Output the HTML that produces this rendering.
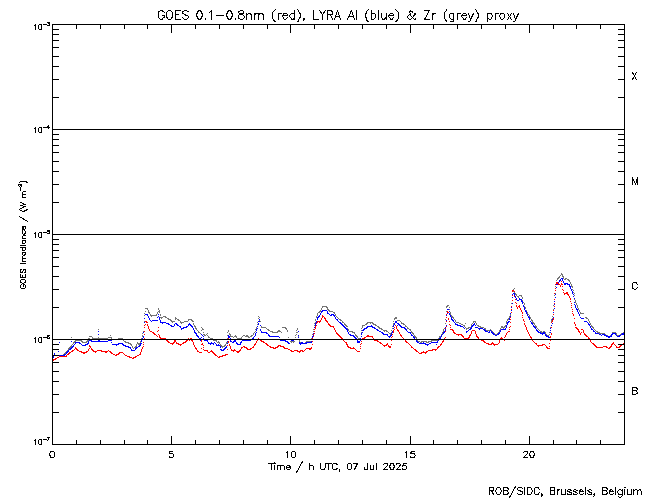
<!DOCTYPE html>
<html lang="en">
<head>
<meta charset="utf-8">
<title>GOES 0.1-0.8nm (red), LYRA Al (blue) &amp; Zr (grey) proxy</title>
<style>
html,body{margin:0;padding:0;background:#fff;font-family:"Liberation Sans",sans-serif}
svg{display:block}
.ln{fill:none;stroke-width:1;stroke-linecap:butt}
.tx{fill:none;stroke:#000;stroke-width:1;stroke-linecap:square;stroke-linejoin:miter}
</style>
</head>
<body>
<svg role="img" aria-label="GOES X-ray irradiance with LYRA Al and Zr proxies, 07 Jul 2025" width="650" height="500" viewBox="0 0 650 500" shape-rendering="crispEdges">
<desc>GOES 0.1-0.8nm (red), LYRA Al (blue) &amp; Zr (grey) proxy. Y: GOES Irradiance / (W m-2), log 1e-7..1e-3 with flare classes B, C, M, X. X: Time / h UTC, 07 Jul 2025. ROB/SIDC, Brussels, Belgium</desc>
<rect x="0" y="0" width="650" height="500" fill="#fff"/>
<g id="series">
<path class="ln" stroke="#747474" d="M561 273.5h1M561 274.5h2M560 275.5h1M562 275.5h1M559 276.5h1M562 276.5h2M558 277.5h2M563 277.5h1M557 278.5h2M563 278.5h1M565 278.5h2M557 279.5h1M564 279.5h2M567 279.5h2M556 280.5h1M568 280.5h2M569 281.5h1M570 282.5h1M556 283.5h1M570 283.5h1M571 284.5h1M571 285.5h1M555 286.5h1M571 286.5h2M572 287.5h1M514 288.5h1M513 289.5h1M572 289.5h1M555 290.5h1M573 290.5h1M513 291.5h1M514 292.5h1M573 292.5h1M513 293.5h3M555 293.5h1M574 293.5h1M515 294.5h2M512 295.5h1M516 295.5h1M519 295.5h3M554 295.5h1M574 295.5h1M517 296.5h2M521 296.5h1M518 297.5h1M522 297.5h1M522 298.5h1M574 299.5h1M512 300.5h1M522 300.5h1M575 300.5h1M554 301.5h1M575 301.5h1M523 302.5h1M575 302.5h1M511 303.5h1M524 303.5h1M576 303.5h1M524 304.5h1M576 304.5h1M447 305.5h2M553 305.5h1M577 305.5h1M322 306.5h5M446 306.5h2M511 306.5h1M524 306.5h1M577 306.5h1M322 307.5h1M326 307.5h2M446 307.5h1M449 307.5h1M525 307.5h1M577 307.5h1M145 308.5h3M158 308.5h1M321 308.5h1M327 308.5h1M525 308.5h1M578 308.5h1M147 309.5h1M158 309.5h1M321 309.5h1M327 309.5h2M449 309.5h1M553 309.5h1M578 309.5h1M148 310.5h1M159 310.5h1M320 310.5h1M328 310.5h2M511 310.5h1M526 310.5h1M579 310.5h1M145 311.5h1M148 311.5h1M158 311.5h2M319 311.5h2M329 311.5h4M446 311.5h1M449 311.5h1M526 311.5h1M579 311.5h1M148 312.5h2M157 312.5h1M159 312.5h1M318 312.5h2M333 312.5h2M450 312.5h1M527 312.5h1M553 312.5h1M580 312.5h1M144 313.5h1M149 313.5h1M157 313.5h1M317 313.5h1M334 313.5h1M450 313.5h1M527 313.5h1M580 313.5h4M150 314.5h1M156 314.5h1M160 314.5h1M317 314.5h1M335 314.5h1M450 314.5h1M510 314.5h1M528 314.5h1M144 315.5h1M150 315.5h7M160 315.5h1M317 315.5h1M335 315.5h1M446 315.5h1M451 315.5h1M510 315.5h1M529 315.5h1M151 316.5h1M163 316.5h3M258 316.5h1M316 316.5h1M336 316.5h1M451 316.5h2M509 316.5h1M529 316.5h1M552 316.5h1M160 317.5h3M165 317.5h2M175 317.5h1M259 317.5h1M316 317.5h1M337 317.5h1M395 317.5h2M452 317.5h2M509 317.5h1M530 317.5h1M585 317.5h2M161 318.5h1M167 318.5h2M175 318.5h2M258 318.5h1M338 318.5h1M394 318.5h3M453 318.5h1M508 318.5h1M530 318.5h1M552 318.5h1M586 318.5h2M168 319.5h3M175 319.5h1M177 319.5h2M188 319.5h4M259 319.5h1M315 319.5h1M339 319.5h2M394 319.5h1M445 319.5h1M454 319.5h1M507 319.5h2M531 319.5h1M551 319.5h1M588 319.5h1M170 320.5h2M178 320.5h2M188 320.5h1M191 320.5h2M259 320.5h1M315 320.5h1M340 320.5h2M397 320.5h3M455 320.5h1M507 320.5h1M531 320.5h2M551 320.5h1M588 320.5h1M144 321.5h1M171 321.5h4M180 321.5h1M184 321.5h4M192 321.5h2M258 321.5h1M260 321.5h1M342 321.5h1M393 321.5h1M400 321.5h1M455 321.5h1M473 321.5h3M506 321.5h1M532 321.5h1M551 321.5h1M589 321.5h1M172 322.5h1M180 322.5h4M257 322.5h1M315 322.5h1M342 322.5h2M367 322.5h6M401 322.5h1M456 322.5h3M473 322.5h1M475 322.5h1M506 322.5h1M532 322.5h2M589 322.5h1M181 323.5h1M193 323.5h1M314 323.5h1M344 323.5h1M366 323.5h2M370 323.5h1M372 323.5h2M393 323.5h1M401 323.5h3M445 323.5h1M459 323.5h2M465 323.5h1M472 323.5h1M476 323.5h1M506 323.5h1M533 323.5h2M590 323.5h1M193 324.5h1M257 324.5h1M344 324.5h2M365 324.5h2M373 324.5h3M393 324.5h1M403 324.5h2M461 324.5h2M471 324.5h1M476 324.5h1M534 324.5h1M590 324.5h1M194 325.5h1M260 325.5h1M314 325.5h1M345 325.5h2M362 325.5h3M375 325.5h2M405 325.5h1M463 325.5h2M471 325.5h1M477 325.5h2M505 325.5h1M535 325.5h1M551 325.5h1M591 325.5h1M194 326.5h2M257 326.5h1M261 326.5h1M346 326.5h2M362 326.5h1M377 326.5h2M392 326.5h1M405 326.5h2M464 326.5h1M471 326.5h1M478 326.5h3M501 326.5h2M504 326.5h2M535 326.5h2M591 326.5h2M144 327.5h1M195 327.5h1M201 327.5h1M256 327.5h1M261 327.5h5M282 327.5h4M314 327.5h1M362 327.5h1M378 327.5h2M407 327.5h1M445 327.5h1M465 327.5h1M468 327.5h3M480 327.5h4M501 327.5h4M536 327.5h1M550 327.5h1M592 327.5h2M195 328.5h2M202 328.5h1M256 328.5h1M266 328.5h1M285 328.5h2M297 328.5h1M347 328.5h1M361 328.5h1M379 328.5h3M392 328.5h1M407 328.5h2M444 328.5h1M466 328.5h3M484 328.5h2M500 328.5h1M503 328.5h1M537 328.5h1M593 328.5h1M98 329.5h1M196 329.5h1M202 329.5h2M255 329.5h1M267 329.5h2M286 329.5h1M297 329.5h1M313 329.5h1M347 329.5h2M381 329.5h2M409 329.5h2M443 329.5h1M466 329.5h1M485 329.5h1M490 329.5h1M500 329.5h1M538 329.5h1M594 329.5h1M197 330.5h1M201 330.5h1M228 330.5h1M268 330.5h2M278 330.5h2M287 330.5h1M296 330.5h1M348 330.5h1M361 330.5h1M383 330.5h4M391 330.5h1M410 330.5h1M443 330.5h1M486 330.5h6M499 330.5h1M539 330.5h1M550 330.5h1M595 330.5h1M143 331.5h1M198 331.5h1M228 331.5h1M255 331.5h1M270 331.5h3M277 331.5h4M287 331.5h1M313 331.5h1M349 331.5h4M384 331.5h1M386 331.5h2M411 331.5h1M443 331.5h1M491 331.5h2M499 331.5h1M540 331.5h2M543 331.5h2M596 331.5h2M143 332.5h1M198 332.5h2M203 332.5h1M227 332.5h1M254 332.5h1M272 332.5h6M281 332.5h1M296 332.5h2M352 332.5h3M361 332.5h1M388 332.5h1M391 332.5h1M411 332.5h2M442 332.5h1M492 332.5h2M498 332.5h1M541 332.5h5M549 332.5h1M597 332.5h3M612 332.5h4M623 332.5h1M142 333.5h1M200 333.5h1M207 333.5h1M229 333.5h1M253 333.5h1M354 333.5h1M389 333.5h3M412 333.5h2M442 333.5h1M493 333.5h2M497 333.5h1M545 333.5h1M599 333.5h6M612 333.5h1M615 333.5h2M621 333.5h3M203 334.5h2M206 334.5h1M229 334.5h2M253 334.5h1M296 334.5h1M312 334.5h1M355 334.5h1M390 334.5h1M413 334.5h1M441 334.5h1M495 334.5h2M546 334.5h1M549 334.5h1M604 334.5h2M611 334.5h1M616 334.5h1M620 334.5h1M110 335.5h1M142 335.5h1M204 335.5h2M207 335.5h1M227 335.5h1M230 335.5h1M235 335.5h1M243 335.5h2M246 335.5h2M251 335.5h2M295 335.5h1M355 335.5h2M414 335.5h1M441 335.5h1M547 335.5h2M606 335.5h2M610 335.5h2M617 335.5h3M89 336.5h3M142 336.5h1M208 336.5h1M230 336.5h3M234 336.5h3M242 336.5h1M245 336.5h4M250 336.5h2M298 336.5h1M312 336.5h1M356 336.5h2M414 336.5h2M439 336.5h2M608 336.5h3M71 337.5h1M92 337.5h1M98 337.5h1M108 337.5h4M208 337.5h2M233 337.5h1M236 337.5h1M241 337.5h1M248 337.5h2M288 337.5h1M295 337.5h1M298 337.5h1M312 337.5h1M357 337.5h1M415 337.5h2M439 337.5h1M88 338.5h2M92 338.5h16M111 338.5h1M118 338.5h5M141 338.5h1M210 338.5h3M227 338.5h1M237 338.5h5M311 338.5h1M358 338.5h3M416 338.5h1M438 338.5h1M88 339.5h1M112 339.5h7M122 339.5h1M141 339.5h1M212 339.5h1M295 339.5h1M299 339.5h1M311 339.5h1M416 339.5h1M438 339.5h1M75 340.5h7M87 340.5h2M123 340.5h1M213 340.5h4M299 340.5h1M417 340.5h1M431 340.5h7M74 341.5h2M81 341.5h2M86 341.5h2M124 341.5h2M140 341.5h1M216 341.5h1M218 341.5h1M290 341.5h5M299 341.5h1M306 341.5h6M418 341.5h2M421 341.5h6M428 341.5h4M73 342.5h2M82 342.5h5M125 342.5h4M137 342.5h1M140 342.5h1M217 342.5h3M226 342.5h2M291 342.5h1M293 342.5h1M300 342.5h3M305 342.5h1M420 342.5h2M426 342.5h3M73 343.5h1M128 343.5h3M137 343.5h3M219 343.5h1M226 343.5h1M300 343.5h2M303 343.5h2M72 344.5h1M130 344.5h2M136 344.5h1M138 344.5h2M220 344.5h1M225 344.5h1M71 345.5h1M131 345.5h1M136 345.5h1M220 345.5h2M224 345.5h2M70 346.5h2M132 346.5h1M135 346.5h2M221 346.5h4M69 347.5h2M132 347.5h1M134 347.5h2M222 347.5h1M68 348.5h2M133 348.5h1M68 349.5h1M67 350.5h1M66 351.5h2M65 352.5h1M64 353.5h2M63 354.5h2M62 355.5h1"/>
<path class="ln" stroke="#0000ff" d="M561 278.5h2M560 279.5h1M562 279.5h1M559 280.5h2M562 280.5h1M559 281.5h1M563 281.5h1M558 282.5h1M563 282.5h1M557 283.5h1M564 283.5h4M556 284.5h2M564 284.5h2M567 284.5h3M569 285.5h1M569 286.5h2M556 287.5h1M570 287.5h1M570 288.5h1M571 289.5h1M555 290.5h1M571 290.5h1M572 291.5h1M572 292.5h1M513 293.5h2M572 293.5h1M512 294.5h1M514 294.5h1M555 294.5h1M573 294.5h1M514 295.5h1M515 296.5h1M573 296.5h1M512 297.5h1M515 297.5h1M555 297.5h1M516 298.5h1M519 298.5h1M574 298.5h1M516 299.5h1M519 299.5h3M517 300.5h2M521 300.5h1M521 301.5h2M554 301.5h1M522 302.5h1M574 302.5h1M512 303.5h1M522 303.5h1M554 304.5h1M574 304.5h1M523 305.5h1M575 305.5h1M523 306.5h1M575 306.5h1M511 307.5h1M524 307.5h1M575 307.5h1M524 308.5h1M554 308.5h1M576 308.5h1M447 309.5h2M524 309.5h1M576 309.5h2M322 310.5h5M511 310.5h1M525 310.5h1M577 310.5h1M321 311.5h2M327 311.5h1M447 311.5h1M449 311.5h1M525 311.5h2M577 311.5h1M321 312.5h1M327 312.5h1M526 312.5h1M553 312.5h1M578 312.5h1M320 313.5h1M327 313.5h2M447 313.5h1M449 313.5h1M510 313.5h1M526 313.5h1M578 313.5h1M145 314.5h3M158 314.5h1M320 314.5h1M329 314.5h1M331 314.5h3M449 314.5h1M527 314.5h1M579 314.5h1M147 315.5h1M319 315.5h1M330 315.5h2M333 315.5h2M446 315.5h1M450 315.5h1M527 315.5h1M579 315.5h1M148 316.5h1M158 316.5h1M318 316.5h2M334 316.5h1M450 316.5h1M510 316.5h1M528 316.5h1M148 317.5h1M157 317.5h1M159 317.5h1M317 317.5h2M335 317.5h1M451 317.5h1M510 317.5h1M528 317.5h2M553 317.5h1M580 317.5h1M144 318.5h1M149 318.5h1M159 318.5h1M317 318.5h1M335 318.5h1M451 318.5h1M509 318.5h1M529 318.5h1M581 318.5h3M149 319.5h1M159 319.5h1M259 319.5h1M317 319.5h1M336 319.5h2M451 319.5h2M509 319.5h1M529 319.5h1M552 319.5h1M150 320.5h1M152 320.5h6M160 320.5h1M337 320.5h1M446 320.5h1M452 320.5h2M151 321.5h1M160 321.5h1M258 321.5h2M316 321.5h1M338 321.5h1M395 321.5h2M453 321.5h1M508 321.5h2M530 321.5h1M552 321.5h1M584 321.5h3M144 322.5h1M160 322.5h6M316 322.5h1M339 322.5h2M395 322.5h2M454 322.5h1M507 322.5h2M531 322.5h1M587 322.5h1M162 323.5h1M166 323.5h3M175 323.5h2M189 323.5h1M258 323.5h1M315 323.5h1M340 323.5h2M394 323.5h1M397 323.5h2M455 323.5h1M474 323.5h1M507 323.5h1M531 323.5h2M552 323.5h1M588 323.5h1M168 324.5h2M174 324.5h1M176 324.5h2M188 324.5h3M258 324.5h1M315 324.5h1M341 324.5h2M394 324.5h1M398 324.5h2M455 324.5h3M473 324.5h2M507 324.5h1M532 324.5h1M588 324.5h2M170 325.5h2M174 325.5h1M177 325.5h2M188 325.5h1M190 325.5h2M260 325.5h1M315 325.5h1M342 325.5h2M371 325.5h1M393 325.5h1M397 325.5h1M399 325.5h2M446 325.5h1M457 325.5h4M472 325.5h2M475 325.5h1M506 325.5h1M533 325.5h1M551 325.5h1M589 325.5h1M171 326.5h3M179 326.5h2M186 326.5h2M191 326.5h2M257 326.5h1M343 326.5h2M367 326.5h6M393 326.5h1M400 326.5h2M460 326.5h3M471 326.5h2M506 326.5h1M533 326.5h2M590 326.5h1M144 327.5h1M180 327.5h1M183 327.5h4M192 327.5h1M314 327.5h1M344 327.5h2M366 327.5h2M372 327.5h3M401 327.5h4M445 327.5h1M463 327.5h1M471 327.5h1M475 327.5h3M506 327.5h1M534 327.5h2M551 327.5h1M590 327.5h1M181 328.5h3M193 328.5h1M257 328.5h1M345 328.5h2M364 328.5h3M374 328.5h2M393 328.5h1M404 328.5h2M464 328.5h1M470 328.5h2M478 328.5h5M505 328.5h1M535 328.5h1M550 328.5h1M591 328.5h1M181 329.5h1M193 329.5h1M256 329.5h1M260 329.5h1M314 329.5h1M346 329.5h2M363 329.5h2M376 329.5h2M405 329.5h2M445 329.5h1M469 329.5h2M479 329.5h1M483 329.5h2M501 329.5h5M536 329.5h1M591 329.5h2M194 330.5h1M256 330.5h1M260 330.5h1M347 330.5h1M362 330.5h2M377 330.5h2M406 330.5h1M445 330.5h1M468 330.5h1M484 330.5h2M490 330.5h1M500 330.5h1M536 330.5h2M550 330.5h1M593 330.5h1M98 331.5h1M194 331.5h1M261 331.5h1M298 331.5h1M314 331.5h1M347 331.5h1M379 331.5h2M392 331.5h1M407 331.5h1M444 331.5h1M466 331.5h2M485 331.5h3M489 331.5h1M491 331.5h1M500 331.5h1M537 331.5h2M593 331.5h2M143 332.5h1M194 332.5h2M256 332.5h1M261 332.5h6M348 332.5h1M362 332.5h1M381 332.5h2M392 332.5h1M408 332.5h3M443 332.5h2M466 332.5h1M488 332.5h2M491 332.5h2M499 332.5h1M538 332.5h3M543 332.5h2M550 332.5h1M595 332.5h1M195 333.5h2M255 333.5h1M266 333.5h2M313 333.5h1M348 333.5h1M361 333.5h1M382 333.5h2M391 333.5h1M410 333.5h1M443 333.5h1M492 333.5h2M498 333.5h2M540 333.5h5M595 333.5h4M612 333.5h4M622 333.5h2M98 334.5h1M196 334.5h1M201 334.5h1M255 334.5h1M268 334.5h1M349 334.5h2M361 334.5h1M383 334.5h5M391 334.5h1M411 334.5h1M442 334.5h1M493 334.5h2M497 334.5h2M542 334.5h1M545 334.5h1M599 334.5h2M602 334.5h3M611 334.5h2M615 334.5h1M621 334.5h3M196 335.5h2M202 335.5h1M228 335.5h1M255 335.5h1M268 335.5h2M298 335.5h1M313 335.5h1M350 335.5h4M387 335.5h1M390 335.5h2M411 335.5h2M441 335.5h1M495 335.5h2M545 335.5h2M601 335.5h1M604 335.5h3M611 335.5h1M616 335.5h1M619 335.5h2M143 336.5h1M197 336.5h2M203 336.5h1M228 336.5h2M254 336.5h1M269 336.5h10M312 336.5h1M353 336.5h2M361 336.5h1M388 336.5h3M413 336.5h1M441 336.5h1M546 336.5h3M606 336.5h6M617 336.5h3M143 337.5h1M198 337.5h1M201 337.5h1M228 337.5h2M253 337.5h1M279 337.5h1M298 337.5h1M312 337.5h1M354 337.5h2M389 337.5h1M413 337.5h2M440 337.5h1M548 337.5h3M608 337.5h2M142 338.5h1M199 338.5h2M203 338.5h1M230 338.5h1M252 338.5h2M355 338.5h2M360 338.5h1M414 338.5h1M439 338.5h2M142 339.5h1M203 339.5h2M227 339.5h1M250 339.5h2M280 339.5h1M312 339.5h1M356 339.5h1M415 339.5h1M438 339.5h2M89 340.5h3M98 340.5h2M108 340.5h4M141 340.5h1M200 340.5h2M204 340.5h4M230 340.5h1M234 340.5h2M242 340.5h9M280 340.5h6M291 340.5h3M357 340.5h1M360 340.5h1M416 340.5h1M438 340.5h1M71 341.5h1M88 341.5h1M91 341.5h17M141 341.5h1M207 341.5h1M227 341.5h1M230 341.5h2M233 341.5h3M241 341.5h1M285 341.5h3M311 341.5h1M357 341.5h3M416 341.5h2M437 341.5h1M59 342.5h1M75 342.5h5M88 342.5h1M111 342.5h1M208 342.5h1M211 342.5h1M214 342.5h1M232 342.5h2M236 342.5h1M240 342.5h2M287 342.5h2M299 342.5h1M301 342.5h2M306 342.5h6M357 342.5h3M417 342.5h2M423 342.5h1M431 342.5h7M75 343.5h1M79 343.5h2M87 343.5h2M118 343.5h5M140 343.5h2M208 343.5h6M215 343.5h1M227 343.5h1M236 343.5h2M240 343.5h1M288 343.5h2M299 343.5h8M419 343.5h7M429 343.5h2M74 344.5h1M81 344.5h1M85 344.5h3M112 344.5h7M122 344.5h2M140 344.5h1M210 344.5h1M213 344.5h1M216 344.5h1M218 344.5h1M237 344.5h4M300 344.5h1M425 344.5h4M436 344.5h1M73 345.5h1M82 345.5h4M116 345.5h1M123 345.5h3M139 345.5h2M216 345.5h4M427 345.5h1M72 346.5h2M125 346.5h4M138 346.5h2M220 346.5h1M226 346.5h1M71 347.5h2M128 347.5h3M136 347.5h2M220 347.5h1M225 347.5h2M70 348.5h2M130 348.5h1M135 348.5h2M224 348.5h2M69 349.5h2M131 349.5h1M135 349.5h1M220 349.5h2M223 349.5h2M68 350.5h1M131 350.5h4M221 350.5h3M58 351.5h1M67 351.5h2M66 352.5h2M54 353.5h1M66 353.5h1M54 354.5h1M64 354.5h2M53 355.5h1M59 355.5h6M53 356.5h1M53 357.5h1"/>
<path class="ln" stroke="#ff0000" d="M561 281.5h1M556 282.5h2M556 283.5h3M561 283.5h1M555 284.5h1M558 284.5h2M561 284.5h2M560 285.5h1M560 286.5h1M562 286.5h1M555 288.5h1M562 289.5h1M512 290.5h2M555 290.5h1M563 290.5h1M512 291.5h1M514 291.5h1M563 292.5h1M566 292.5h2M554 293.5h1M564 293.5h4M564 294.5h1M567 294.5h2M512 295.5h1M568 295.5h1M514 296.5h1M569 296.5h1M569 297.5h1M570 298.5h1M515 299.5h1M554 299.5h1M570 299.5h1M512 300.5h1M570 301.5h1M515 302.5h1M516 303.5h1M554 303.5h1M571 303.5h1M516 305.5h1M519 305.5h1M571 305.5h1M511 306.5h1M516 306.5h1M518 306.5h2M554 306.5h1M517 307.5h1M519 307.5h1M571 307.5h1M517 308.5h1M520 308.5h1M511 309.5h1M520 309.5h1M572 309.5h1M521 310.5h1M553 310.5h1M447 311.5h1M521 311.5h1M572 311.5h1M447 312.5h2M511 312.5h1M522 312.5h1M522 313.5h1M572 313.5h1M446 314.5h1M553 314.5h1M573 314.5h1M322 315.5h1M522 315.5h1M573 315.5h1M322 316.5h2M322 317.5h1M324 317.5h1M446 317.5h1M510 317.5h1M522 317.5h1M321 318.5h1M324 318.5h2M448 318.5h1M553 318.5h1M574 318.5h1M321 319.5h1M325 319.5h1M448 319.5h1M510 319.5h1M523 319.5h1M553 319.5h1M320 320.5h1M325 320.5h2M523 320.5h1M552 320.5h1M145 321.5h2M317 321.5h4M326 321.5h2M446 321.5h1M449 321.5h1M524 321.5h1M552 321.5h1M146 322.5h2M317 322.5h1M319 322.5h1M327 322.5h1M510 322.5h1M551 322.5h1M574 322.5h1M316 323.5h1M328 323.5h1M524 323.5h1M574 323.5h1M145 324.5h1M147 324.5h1M328 324.5h2M449 324.5h1M524 324.5h1M575 324.5h1M144 325.5h1M147 325.5h1M316 325.5h1M329 325.5h2M395 325.5h1M450 325.5h1M525 325.5h1M575 325.5h1M148 326.5h1M315 326.5h1M330 326.5h4M396 326.5h1M446 326.5h1M510 326.5h1M525 326.5h1M144 327.5h1M148 327.5h1M158 327.5h1M315 327.5h1M333 327.5h1M394 327.5h1M396 327.5h1M450 327.5h1M509 327.5h1M526 327.5h1M551 327.5h1M575 327.5h2M148 328.5h1M315 328.5h1M334 328.5h1M396 328.5h1M445 328.5h1M526 328.5h1M576 328.5h2M149 329.5h1M314 329.5h1M334 329.5h1M394 329.5h1M397 329.5h1M450 329.5h3M509 329.5h1M526 329.5h1M577 329.5h2M581 329.5h2M149 330.5h1M158 330.5h1M335 330.5h1M393 330.5h1M397 330.5h2M452 330.5h2M472 330.5h3M527 330.5h1M578 330.5h1M583 330.5h1M144 331.5h1M150 331.5h2M157 331.5h1M314 331.5h1M335 331.5h1M393 331.5h1M398 331.5h1M445 331.5h1M453 331.5h1M471 331.5h1M475 331.5h1M508 331.5h2M527 331.5h1M578 331.5h2M583 331.5h1M152 332.5h2M336 332.5h1M393 332.5h1M399 332.5h1M453 332.5h2M471 332.5h1M475 332.5h1M507 332.5h1M528 332.5h1M579 332.5h1M581 332.5h1M583 332.5h1M153 333.5h2M314 333.5h1M336 333.5h2M399 333.5h1M454 333.5h2M471 333.5h1M475 333.5h1M506 333.5h1M528 333.5h1M551 333.5h1M580 333.5h1M584 333.5h1M144 334.5h1M154 334.5h2M158 334.5h1M313 334.5h1M337 334.5h2M392 334.5h1M400 334.5h1M456 334.5h6M470 334.5h1M476 334.5h1M506 334.5h1M529 334.5h1M551 334.5h1M580 334.5h1M584 334.5h2M156 335.5h1M159 335.5h1M338 335.5h2M367 335.5h2M400 335.5h2M458 335.5h1M461 335.5h2M469 335.5h2M476 335.5h1M505 335.5h1M529 335.5h1M585 335.5h2M157 336.5h1M159 336.5h1M313 336.5h1M339 336.5h2M366 336.5h7M392 336.5h1M401 336.5h1M462 336.5h2M469 336.5h1M476 336.5h2M505 336.5h1M530 336.5h1M550 336.5h1M586 336.5h2M159 337.5h2M340 337.5h2M364 337.5h2M372 337.5h1M391 337.5h1M402 337.5h1M445 337.5h1M463 337.5h1M468 337.5h2M477 337.5h2M501 337.5h1M504 337.5h1M530 337.5h2M550 337.5h1M588 337.5h1M144 338.5h1M160 338.5h6M188 338.5h1M190 338.5h2M228 338.5h1M258 338.5h1M312 338.5h1M341 338.5h2M362 338.5h3M373 338.5h1M403 338.5h1M444 338.5h1M464 338.5h5M478 338.5h1M500 338.5h3M531 338.5h1M588 338.5h2M165 339.5h2M187 339.5h5M258 339.5h2M342 339.5h1M361 339.5h1M374 339.5h1M391 339.5h1M404 339.5h1M444 339.5h1M465 339.5h2M479 339.5h2M500 339.5h1M502 339.5h3M531 339.5h2M589 339.5h1M166 340.5h2M174 340.5h2M186 340.5h2M189 340.5h1M191 340.5h2M201 340.5h1M257 340.5h1M260 340.5h2M343 340.5h1M374 340.5h4M391 340.5h1M405 340.5h1M443 340.5h1M481 340.5h3M499 340.5h1M504 340.5h1M532 340.5h1M550 340.5h1M590 340.5h1M167 341.5h2M174 341.5h2M185 341.5h2M192 341.5h1M201 341.5h1M228 341.5h1M256 341.5h1M261 341.5h3M312 341.5h1M344 341.5h1M361 341.5h1M377 341.5h2M405 341.5h2M442 341.5h2M483 341.5h2M499 341.5h1M533 341.5h1M590 341.5h1M143 342.5h1M168 342.5h2M173 342.5h2M176 342.5h1M183 342.5h3M193 342.5h1M228 342.5h1M256 342.5h1M263 342.5h2M345 342.5h2M379 342.5h2M406 342.5h2M442 342.5h1M484 342.5h2M492 342.5h1M499 342.5h1M534 342.5h1M591 342.5h1M613 342.5h1M170 343.5h4M176 343.5h3M182 343.5h2M193 343.5h1M202 343.5h1M255 343.5h1M265 343.5h2M346 343.5h1M361 343.5h1M380 343.5h2M387 343.5h1M408 343.5h1M441 343.5h1M486 343.5h3M491 343.5h3M498 343.5h1M535 343.5h2M549 343.5h1M592 343.5h2M612 343.5h2M623 343.5h1M143 344.5h1M172 344.5h1M178 344.5h4M193 344.5h1M201 344.5h2M229 344.5h1M254 344.5h2M266 344.5h2M312 344.5h1M346 344.5h2M360 344.5h1M382 344.5h1M386 344.5h2M391 344.5h1M409 344.5h1M440 344.5h2M488 344.5h4M493 344.5h5M536 344.5h1M542 344.5h3M593 344.5h2M611 344.5h2M614 344.5h1M621 344.5h3M89 345.5h1M180 345.5h1M194 345.5h1M203 345.5h1M227 345.5h1M229 345.5h1M254 345.5h1M267 345.5h2M278 345.5h3M347 345.5h1M383 345.5h4M388 345.5h1M410 345.5h1M440 345.5h1M494 345.5h1M537 345.5h6M545 345.5h1M594 345.5h2M611 345.5h1M615 345.5h1M620 345.5h2M89 346.5h2M143 346.5h1M194 346.5h1M230 346.5h1M243 346.5h2M253 346.5h1M269 346.5h2M277 346.5h2M280 346.5h4M347 346.5h2M360 346.5h1M384 346.5h1M388 346.5h3M411 346.5h1M438 346.5h2M538 346.5h1M546 346.5h1M549 346.5h1M595 346.5h2M603 346.5h4M610 346.5h2M616 346.5h1M619 346.5h2M75 347.5h1M90 347.5h1M142 347.5h1M195 347.5h1M203 347.5h1M230 347.5h1M241 347.5h2M244 347.5h3M252 347.5h2M270 347.5h4M275 347.5h3M283 347.5h2M311 347.5h1M348 347.5h3M353 347.5h1M389 347.5h2M411 347.5h2M437 347.5h2M546 347.5h2M596 347.5h7M606 347.5h2M609 347.5h2M616 347.5h4M75 348.5h2M89 348.5h1M91 348.5h1M142 348.5h1M195 348.5h2M201 348.5h1M230 348.5h1M241 348.5h1M246 348.5h2M250 348.5h2M273 348.5h3M284 348.5h4M306 348.5h6M350 348.5h5M360 348.5h1M413 348.5h1M437 348.5h1M547 348.5h3M608 348.5h2M74 349.5h1M76 349.5h2M88 349.5h1M91 349.5h2M141 349.5h1M196 349.5h1M203 349.5h1M227 349.5h1M231 349.5h1M234 349.5h1M240 349.5h1M247 349.5h4M288 349.5h2M305 349.5h1M309 349.5h2M355 349.5h1M414 349.5h2M432 349.5h5M72 350.5h2M77 350.5h2M88 350.5h1M92 350.5h2M97 350.5h5M108 350.5h1M141 350.5h1M197 350.5h1M204 350.5h4M211 350.5h1M231 350.5h5M239 350.5h2M290 350.5h2M294 350.5h4M300 350.5h3M304 350.5h1M356 350.5h1M415 350.5h2M428 350.5h5M435 350.5h1M71 351.5h2M79 351.5h3M86 351.5h2M93 351.5h4M101 351.5h7M109 351.5h2M141 351.5h1M197 351.5h2M207 351.5h1M210 351.5h3M233 351.5h1M236 351.5h4M291 351.5h3M297 351.5h4M302 351.5h2M357 351.5h3M416 351.5h2M423 351.5h1M426 351.5h2M69 352.5h2M81 352.5h6M95 352.5h1M105 352.5h2M110 352.5h2M119 352.5h4M140 352.5h1M199 352.5h3M208 352.5h2M212 352.5h2M237 352.5h2M299 352.5h1M418 352.5h1M421 352.5h6M68 353.5h2M83 353.5h2M111 353.5h2M118 353.5h2M123 353.5h1M140 353.5h1M213 353.5h2M419 353.5h3M425 353.5h1M67 354.5h2M113 354.5h2M116 354.5h3M124 354.5h1M139 354.5h2M214 354.5h2M225 354.5h3M66 355.5h1M115 355.5h2M125 355.5h2M137 355.5h2M215 355.5h2M222 355.5h4M59 356.5h8M127 356.5h3M135 356.5h2M217 356.5h1M219 356.5h4M57 357.5h2M129 357.5h3M133 357.5h3M218 357.5h2M55 358.5h2M132 358.5h2M53 359.5h3M53 360.5h1"/>
</g>
<g id="axes"><path class="ln" stroke="#000" d="M52 24.5H625M52 444.5H625M52.5 24V445M624.5 24V445M52 129.5H625M52 234.5H625M52 339.5H625M53 97.5h6M618 97.5h6M53 79.5h6M618 79.5h6M53 66.5h6M618 66.5h6M53 56.5h6M618 56.5h6M53 47.5h6M618 47.5h6M53 40.5h6M618 40.5h6M53 34.5h6M618 34.5h6M53 29.5h6M618 29.5h6M53 202.5h6M618 202.5h6M53 184.5h6M618 184.5h6M53 171.5h6M618 171.5h6M53 161.5h6M618 161.5h6M53 152.5h6M618 152.5h6M53 145.5h6M618 145.5h6M53 139.5h6M618 139.5h6M53 134.5h6M618 134.5h6M53 307.5h6M618 307.5h6M53 289.5h6M618 289.5h6M53 276.5h6M618 276.5h6M53 266.5h6M618 266.5h6M53 257.5h6M618 257.5h6M53 250.5h6M618 250.5h6M53 244.5h6M618 244.5h6M53 239.5h6M618 239.5h6M53 412.5h6M618 412.5h6M53 394.5h6M618 394.5h6M53 381.5h6M618 381.5h6M53 371.5h6M618 371.5h6M53 362.5h6M618 362.5h6M53 355.5h6M618 355.5h6M53 349.5h6M618 349.5h6M53 344.5h6M618 344.5h6M76.5 444v-4M76.5 25v4M100.5 444v-4M100.5 25v4M124.5 444v-4M124.5 25v4M147.5 444v-4M147.5 25v4M171.5 444v-8M171.5 25v8M195.5 444v-4M195.5 25v4M219.5 444v-4M219.5 25v4M243.5 444v-4M243.5 25v4M267.5 444v-4M267.5 25v4M290.5 444v-8M290.5 25v8M314.5 444v-4M314.5 25v4M338.5 444v-4M338.5 25v4M362.5 444v-4M362.5 25v4M386.5 444v-4M386.5 25v4M410.5 444v-8M410.5 25v8M433.5 444v-4M433.5 25v4M457.5 444v-4M457.5 25v4M481.5 444v-4M481.5 25v4M505.5 444v-4M505.5 25v4M529.5 444v-8M529.5 25v8M553.5 444v-4M553.5 25v4M576.5 444v-4M576.5 25v4M600.5 444v-4M600.5 25v4"/></g>
<g id="labels"><path class="tx" d="M164.5 12.5L163.5 11.5H162.5V10.5H160.5L159.5 11.5H158.5V12.5V13.5V15.5V17.5L159.5 18.5L160.5 19.5H162.5V18.5L163.5 17.5H164.5V15.5M162.5 15.5H164.5M168.5 10.5L167.5 11.5L166.5 12.5V13.5V15.5V17.5H167.5V18.5L168.5 19.5H170.5L171.5 18.5V17.5H172.5V15.5V13.5V12.5L171.5 11.5L170.5 10.5H168.5M175.5 10.5V19.5M175.5 10.5H180.5M175.5 14.5H178.5M175.5 19.5H180.5M188.5 11.5H187.5L186.5 10.5H184.5L183.5 11.5H182.5V12.5V13.5H183.5L184.5 14.5L186.5 15.5H187.5L188.5 16.5V17.5L187.5 18.5L186.5 19.5H184.5L183.5 18.5L182.5 17.5M199.5 10.5L197.5 11.5V12.5L196.5 14.5V15.5L197.5 17.5V18.5L199.5 19.5L201.5 18.5V17.5L202.5 15.5V14.5L201.5 12.5V11.5L199.5 10.5M205.5 18.5V19.5V18.5M209.5 12.5L210.5 11.5L211.5 10.5V19.5M216.5 15.5H223.5M229.5 10.5L227.5 11.5V12.5L226.5 14.5V15.5L227.5 17.5V18.5L229.5 19.5L231.5 18.5V17.5L232.5 15.5V14.5L231.5 12.5V11.5L229.5 10.5M235.5 18.5V19.5V18.5M240.5 10.5L239.5 11.5H238.5V12.5L239.5 13.5H240.5L241.5 14.5H242.5L243.5 15.5L244.5 16.5V17.5L243.5 18.5L242.5 19.5H240.5L239.5 18.5H238.5V17.5V16.5V15.5L239.5 14.5H240.5L242.5 13.5H243.5V12.5V11.5L242.5 10.5H240.5M246.5 13.5V19.5M246.5 15.5L248.5 13.5H250.5L251.5 15.5V19.5M254.5 13.5V19.5M254.5 15.5L255.5 13.5H256.5H257.5H258.5V15.5V19.5M258.5 15.5L259.5 13.5H260.5H261.5H262.5L263.5 15.5V19.5M275.5 9.5L274.5 10.5L273.5 11.5L272.5 12.5V14.5V16.5V18.5L273.5 19.5L274.5 21.5H275.5M278.5 13.5V19.5M278.5 15.5V14.5L279.5 13.5H280.5H281.5M282.5 15.5H287.5V14.5L286.5 13.5H285.5H284.5H283.5V14.5L282.5 15.5V16.5L283.5 17.5V18.5L284.5 19.5H285.5L286.5 18.5L287.5 17.5M294.5 10.5V19.5M294.5 14.5L293.5 13.5H291.5L290.5 14.5L289.5 15.5V16.5L290.5 17.5L291.5 18.5V19.5H293.5V18.5L294.5 17.5M297.5 9.5L298.5 10.5V11.5L299.5 12.5L300.5 14.5V16.5L299.5 18.5L298.5 19.5V21.5H297.5M304.5 18.5L303.5 19.5V18.5H304.5V19.5L303.5 20.5M313.5 10.5V19.5M313.5 19.5H318.5M319.5 10.5L322.5 14.5V19.5M325.5 10.5L322.5 14.5M327.5 10.5V19.5M327.5 10.5H330.5L332.5 11.5V12.5V13.5V14.5H330.5H327.5M330.5 14.5L332.5 19.5M337.5 10.5L334.5 19.5M337.5 10.5L340.5 19.5M335.5 16.5H339.5M351.5 10.5L347.5 19.5M351.5 10.5L354.5 19.5M349.5 16.5H352.5M356.5 10.5V19.5M368.5 9.5L367.5 10.5L366.5 11.5V12.5L365.5 14.5V16.5L366.5 18.5V19.5L367.5 21.5H368.5M371.5 10.5V19.5M371.5 14.5V13.5H372.5H373.5H374.5L375.5 14.5V15.5V16.5V17.5L374.5 18.5L373.5 19.5H372.5L371.5 18.5V17.5M378.5 10.5V19.5M381.5 13.5V17.5L382.5 18.5V19.5H384.5V18.5L386.5 17.5M386.5 13.5V19.5M388.5 15.5H393.5V14.5L392.5 13.5H390.5L389.5 14.5L388.5 15.5V16.5L389.5 17.5L390.5 18.5V19.5H392.5V18.5L393.5 17.5M395.5 9.5L396.5 10.5L397.5 11.5L398.5 12.5V14.5V16.5V18.5L397.5 19.5L396.5 21.5H395.5M415.5 14.5V13.5H414.5V14.5L413.5 16.5L412.5 17.5L411.5 18.5L410.5 19.5H409.5L408.5 18.5L407.5 17.5V16.5L408.5 15.5L411.5 13.5L412.5 12.5V11.5H411.5L410.5 10.5V11.5H409.5V12.5L410.5 13.5V15.5L412.5 17.5L413.5 18.5L414.5 19.5H415.5V18.5M429.5 10.5L424.5 19.5M424.5 10.5H429.5M424.5 19.5H429.5M432.5 13.5V19.5M432.5 15.5L433.5 14.5V13.5H434.5H435.5M446.5 9.5V10.5L445.5 11.5L444.5 12.5V14.5V16.5V18.5L445.5 19.5L446.5 21.5M453.5 13.5V19.5V21.5H452.5H451.5H450.5M453.5 14.5V13.5H452.5H451.5H450.5L449.5 14.5V15.5V16.5V17.5L450.5 18.5L451.5 19.5H452.5L453.5 18.5V17.5M457.5 13.5V19.5M457.5 15.5V14.5L458.5 13.5H459.5H460.5M461.5 15.5H466.5V14.5L465.5 13.5H463.5L462.5 14.5L461.5 15.5V16.5L462.5 17.5L463.5 18.5V19.5H465.5V18.5L466.5 17.5M468.5 13.5L470.5 19.5M473.5 13.5L470.5 19.5V20.5L469.5 21.5H468.5M475.5 9.5L476.5 10.5V11.5L477.5 12.5L478.5 14.5V16.5L477.5 18.5L476.5 19.5V21.5H475.5M487.5 13.5V21.5M487.5 14.5L488.5 13.5H489.5H490.5H491.5V14.5L492.5 15.5V16.5L491.5 17.5V18.5L490.5 19.5H489.5L488.5 18.5L487.5 17.5M495.5 13.5V19.5M495.5 15.5V14.5L496.5 13.5H498.5M501.5 13.5H500.5V14.5L499.5 15.5V16.5L500.5 17.5V18.5L501.5 19.5H502.5L503.5 18.5L504.5 17.5V16.5V15.5V14.5L503.5 13.5H502.5H501.5M507.5 13.5L511.5 19.5M511.5 13.5L507.5 19.5M513.5 13.5L515.5 19.5M518.5 13.5L515.5 19.5V20.5L514.5 21.5H513.5M271.5 463.5V469.5M268.5 463.5H273.5M274.5 463.5H275.5L274.5 462.5V463.5M274.5 465.5V469.5M277.5 465.5V469.5M277.5 466.5L278.5 465.5H279.5H280.5V466.5V469.5M280.5 466.5L281.5 465.5H282.5H283.5L284.5 466.5V469.5M286.5 467.5H290.5V466.5H289.5V465.5H288.5H287.5L286.5 466.5V467.5V468.5L287.5 469.5H288.5H289.5L290.5 468.5M302.5 461.5L296.5 472.5M309.5 463.5V469.5M309.5 466.5L310.5 465.5H311.5H312.5L313.5 466.5V469.5M320.5 463.5V467.5V468.5L321.5 469.5H322.5H323.5H324.5V468.5L325.5 467.5V463.5M328.5 463.5V469.5M326.5 463.5H331.5M337.5 464.5H336.5V463.5H335.5H334.5H333.5L332.5 464.5V465.5V467.5V468.5L333.5 469.5H334.5H335.5H336.5V468.5H337.5M339.5 469.5V470.5V471.5M349.5 463.5H348.5L347.5 464.5V466.5V468.5L348.5 469.5H349.5H350.5L351.5 468.5V466.5V464.5L350.5 463.5H349.5M357.5 463.5L354.5 469.5M353.5 463.5H357.5M367.5 463.5V468.5V469.5H366.5H365.5H364.5V468.5V467.5M370.5 465.5V468.5V469.5H371.5H372.5L373.5 468.5M373.5 465.5V469.5M376.5 463.5V469.5M383.5 464.5L384.5 463.5H385.5H386.5H387.5V464.5V465.5L386.5 466.5L383.5 469.5H387.5M391.5 463.5H390.5V464.5L389.5 466.5L390.5 468.5V469.5H391.5H392.5H393.5V468.5L394.5 466.5L393.5 464.5V463.5H392.5H391.5M396.5 464.5V463.5H397.5H398.5H399.5L400.5 464.5V465.5H399.5V466.5L396.5 469.5H400.5M406.5 463.5H403.5L402.5 466.5L403.5 465.5H404.5H405.5L406.5 466.5V467.5V468.5L405.5 469.5H404.5H403.5H402.5V468.5M489.5 487.5V494.5M489.5 487.5H492.5H493.5V488.5V489.5V490.5H492.5H489.5M491.5 490.5L493.5 494.5M497.5 487.5L496.5 488.5V489.5L495.5 490.5V491.5L496.5 492.5V493.5L497.5 494.5H499.5L500.5 493.5V492.5L501.5 491.5V490.5L500.5 489.5V488.5L499.5 487.5H497.5M503.5 487.5V494.5M503.5 487.5H506.5H507.5V488.5H508.5V489.5L507.5 490.5H506.5M503.5 490.5H506.5L507.5 491.5L508.5 492.5V493.5H507.5V494.5H506.5H503.5M515.5 486.5L509.5 497.5M522.5 488.5L521.5 487.5H520.5H519.5H518.5L517.5 488.5V489.5L518.5 490.5H519.5L521.5 491.5H522.5V492.5V493.5L521.5 494.5H520.5H519.5H518.5L517.5 493.5M524.5 487.5V494.5M527.5 487.5V494.5M527.5 487.5H529.5H530.5L531.5 488.5V489.5L532.5 490.5V491.5L531.5 492.5V493.5L530.5 494.5H529.5H527.5M539.5 489.5L538.5 488.5V487.5H537.5H536.5H535.5L534.5 488.5V489.5V490.5V491.5V492.5V493.5L535.5 494.5H536.5H537.5H538.5V493.5L539.5 492.5M542.5 494.5H541.5V493.5L542.5 494.5V495.5H541.5V496.5M550.5 487.5V494.5M550.5 487.5H553.5H554.5V488.5V489.5V490.5H553.5M550.5 490.5H553.5L554.5 491.5V492.5V493.5V494.5H553.5H550.5M557.5 489.5V494.5M557.5 491.5V490.5H558.5V489.5H559.5M561.5 489.5V493.5V494.5H562.5H563.5H564.5L565.5 493.5M565.5 489.5V494.5M571.5 490.5L569.5 489.5H568.5L567.5 490.5V491.5H568.5L570.5 492.5H571.5V493.5V494.5H569.5H568.5H567.5V493.5M577.5 490.5H576.5L575.5 489.5H574.5L573.5 490.5V491.5H574.5L576.5 492.5L577.5 493.5L576.5 494.5H575.5H574.5H573.5V493.5M579.5 491.5H583.5L582.5 490.5L581.5 489.5H580.5V490.5H579.5V491.5V492.5V493.5L580.5 494.5H581.5H582.5L583.5 493.5M585.5 487.5V494.5M591.5 490.5L590.5 489.5H589.5L588.5 490.5H587.5L588.5 491.5L590.5 492.5H591.5V493.5V494.5H590.5H589.5H588.5L587.5 493.5M594.5 494.5H593.5L594.5 493.5V494.5V495.5L593.5 496.5M602.5 487.5V494.5M602.5 487.5H605.5H606.5V488.5H607.5V489.5L606.5 490.5H605.5M602.5 490.5H605.5L606.5 491.5L607.5 492.5V493.5H606.5V494.5H605.5H602.5M609.5 491.5H613.5L612.5 490.5L611.5 489.5H610.5V490.5H609.5V491.5V492.5V493.5L610.5 494.5H611.5H612.5L613.5 493.5M615.5 487.5V494.5M622.5 489.5V495.5L621.5 496.5L620.5 497.5H619.5L618.5 496.5M622.5 490.5H621.5L620.5 489.5H619.5L618.5 490.5L617.5 491.5V492.5L618.5 493.5V494.5H619.5H620.5H621.5L622.5 493.5M624.5 487.5H625.5H624.5M624.5 489.5V494.5M627.5 489.5V493.5V494.5H628.5H629.5H630.5L631.5 493.5M631.5 489.5V494.5M633.5 489.5V494.5M633.5 491.5L634.5 490.5L635.5 489.5H636.5L637.5 490.5V491.5V494.5M637.5 491.5L638.5 490.5L639.5 489.5H640.5V490.5L641.5 491.5V494.5M51.5 451.5H50.5V452.5L49.5 453.5V454.5L50.5 456.5V457.5H51.5H52.5H53.5L54.5 456.5V454.5V453.5V452.5L53.5 451.5H52.5H51.5M172.5 451.5H169.5V453.5H170.5H171.5H172.5L173.5 454.5V455.5V456.5L172.5 457.5H171.5H170.5H169.5V456.5M286.5 452.5L287.5 451.5V457.5M293.5 451.5H292.5L291.5 452.5V453.5V454.5V456.5L292.5 457.5H293.5H294.5L295.5 456.5V454.5V453.5V452.5L294.5 451.5H293.5M405.5 452.5L406.5 451.5V457.5M414.5 451.5H411.5L410.5 453.5H411.5H412.5H413.5H414.5V454.5L415.5 455.5L414.5 456.5V457.5H413.5H412.5H411.5H410.5V456.5M523.5 452.5L524.5 451.5H525.5H526.5H527.5V452.5V453.5L526.5 454.5L523.5 457.5H527.5M531.5 451.5H530.5V452.5L529.5 453.5V454.5L530.5 456.5V457.5H531.5H532.5H533.5V456.5L534.5 454.5V453.5L533.5 452.5V451.5H532.5H531.5M632.5 72.5L636.5 79.5M636.5 72.5L632.5 79.5M632.5 177.5V184.5M632.5 177.5L635.5 184.5M637.5 177.5L635.5 184.5M637.5 177.5V184.5M637.5 284.5L636.5 283.5V282.5H635.5H634.5H633.5L632.5 283.5V284.5V285.5V286.5V287.5V288.5H633.5L634.5 289.5H635.5L636.5 288.5L637.5 287.5M632.5 387.5V394.5M632.5 387.5H635.5H636.5V388.5H637.5V389.5L636.5 390.5H635.5M632.5 390.5H635.5L636.5 391.5L637.5 392.5V393.5H636.5L635.5 394.5H632.5M34.5 25.5L35.5 24.5V29.5M39.5 24.5L38.5 25.5V26.5V27.5V28.5L39.5 29.5H40.5H41.5V28.5V27.5V26.5V25.5V24.5H40.5H39.5M43.5 24.5H46.5M47.5 22.5H49.5L48.5 23.5H49.5V24.5V25.5H48.5H47.5M34.5 128.5L35.5 127.5V132.5M39.5 127.5L38.5 128.5V129.5V130.5V131.5L39.5 132.5H40.5H41.5V131.5V130.5V129.5V128.5V127.5H40.5H39.5M43.5 127.5H46.5M48.5 125.5L47.5 127.5H49.5M48.5 125.5V128.5M34.5 233.5L35.5 232.5V237.5M39.5 232.5L38.5 233.5V234.5V235.5V236.5L39.5 237.5H40.5H41.5V236.5V235.5V234.5V233.5V232.5H40.5H39.5M43.5 232.5H46.5M49.5 230.5H47.5V231.5H48.5H49.5V232.5V233.5H48.5H47.5M34.5 338.5L35.5 337.5V342.5M39.5 337.5L38.5 338.5V339.5V340.5V341.5L39.5 342.5H40.5H41.5V341.5V340.5V339.5V338.5V337.5H40.5H39.5M43.5 337.5H46.5M49.5 335.5H48.5H47.5V336.5V337.5V338.5H48.5H49.5V337.5L48.5 336.5H47.5V337.5M34.5 440.5L35.5 439.5V444.5M39.5 439.5L38.5 440.5V441.5V442.5V443.5L39.5 444.5H40.5H41.5V443.5V442.5V441.5V440.5V439.5H40.5H39.5M43.5 439.5H46.5M49.5 437.5L47.5 440.5M47.5 437.5H49.5M21.5 284.5L20.5 285.5V286.5V287.5L21.5 288.5H22.5H23.5H24.5L25.5 287.5V286.5V285.5L24.5 284.5H23.5M23.5 286.5V284.5M20.5 281.5V282.5H21.5L22.5 283.5H23.5L24.5 282.5H25.5V281.5V280.5L24.5 279.5H23.5H22.5H21.5L20.5 280.5V281.5M20.5 277.5H25.5M20.5 277.5V274.5M22.5 277.5V275.5M25.5 277.5V274.5M21.5 269.5H20.5V270.5V271.5V272.5H21.5H22.5V271.5L23.5 270.5V269.5H24.5H25.5V270.5V271.5V272.5H24.5M20.5 263.5H25.5M22.5 261.5H25.5M23.5 261.5H22.5V260.5V259.5M22.5 258.5H25.5M23.5 258.5L22.5 257.5V256.5M22.5 252.5H25.5M22.5 252.5V253.5V254.5L23.5 255.5H24.5V254.5H25.5V253.5V252.5H24.5M20.5 247.5H25.5M22.5 247.5V248.5V249.5V250.5H23.5H24.5L25.5 249.5V248.5V247.5H24.5M20 245.5h1M22.5 245.5H25.5M22.5 240.5H25.5M22.5 240.5V241.5V242.5V243.5H23.5H24.5L25.5 242.5V241.5L24.5 240.5M22.5 238.5H25.5M23.5 238.5L22.5 237.5V236.5L23.5 235.5H25.5M22.5 230.5V231.5V232.5V233.5L23.5 234.5H24.5V233.5H25.5V232.5V231.5L24.5 230.5M23.5 229.5V226.5H22.5V227.5V228.5V229.5H23.5H24.5L25.5 228.5V227.5V226.5H24.5M19.5 216.5L27.5 221.5M19.5 209.5L20.5 210.5H21.5L22.5 211.5H23.5L25.5 210.5H26.5V209.5H27.5M20.5 208.5L25.5 206.5M20.5 205.5L25.5 206.5M20.5 205.5L25.5 204.5M20.5 202.5L25.5 204.5M22.5 197.5H25.5M23.5 197.5L22.5 196.5V195.5V194.5H23.5H25.5M23.5 194.5L22.5 193.5V192.5L23.5 191.5H25.5M20.5 190.5V187.5M19.5 186.5L18.5 185.5V184.5H19.5H20.5L21.5 186.5V184.5M19.5 182.5L20.5 181.5H21.5H22.5H23.5H25.5H26.5V182.5H27.5"/></g>
</svg>
</body>
</html>
